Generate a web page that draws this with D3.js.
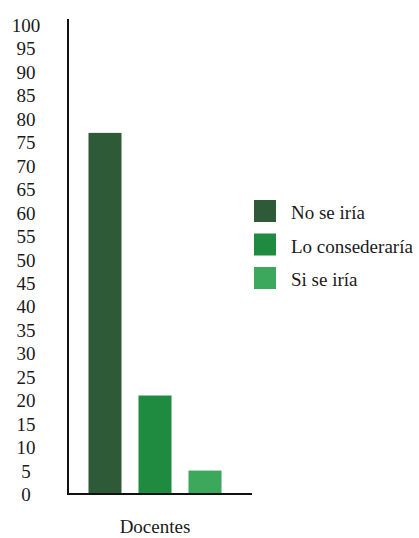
<!DOCTYPE html>
<html>
<head>
<meta charset="utf-8">
<script src="https://cdn.jsdelivr.net/npm/d3@7"></script>
<style>
  html, body { margin: 0; padding: 0; background: #fff; }
  svg { display: block; }
  svg text { font-family: "Liberation Serif", "DejaVu Serif", "Noto Serif", "Times New Roman", serif; fill: #1a1a1a; }
</style>
</head>
<body>
<svg id="chart" width="419" height="538"></svg>
<script>
// Survey answers for the "Docentes" group (percent)
const group = "Docentes";
const seriesNames = ["No se iría", "Lo consederaría", "Si se iría"];
const seriesValues = [77, 21, 5];
const seriesColors = ["#2e5a37", "#1f8b40", "#3ba85b"];
const yTicks = d3.range(0, 101, 5);

const serif = '"Liberation Serif", "DejaVu Serif", "Noto Serif", "Times New Roman", serif';
const svg = d3.select("#chart");

const axisX = 68, baseY = 494, topY = 25;

const y = d3.scaleLinear().domain([0, 100]).range([baseY, topY]);
const x = d3.scaleBand()
  .domain(seriesNames)
  .range([80, 230])
  .paddingInner(0.34)
  .paddingOuter(0.17);

// Bars
svg.append("g")
  .selectAll("rect")
  .data(seriesNames.map((n, i) => ({ name: n, value: seriesValues[i], color: seriesColors[i] })))
  .join("rect")
  .attr("x", d => x(d.name))
  .attr("width", x.bandwidth())
  .attr("y", d => y(d.value))
  .attr("height", d => y(0) - y(d.value))
  .attr("fill", d => d.color);

// Y tick labels (no tick marks)
const yAxis = svg.append("g")
  .attr("transform", `translate(${axisX},0)`)
  .call(d3.axisLeft(y).tickValues(yTicks).tickSize(0).tickFormat(d3.format("d")));
yAxis.attr("font-family", null).attr("font-size", null);
yAxis.select(".domain").remove();
yAxis.selectAll("text")
  .attr("x", -42)
  .attr("dy", null)
  .attr("y", 6.5)
  .attr("text-anchor", "middle")
  .style("font-family", serif)
  .style("font-size", "19px")
  .attr("fill", "#1a1a1a");

// Axis lines
svg.append("line")
  .attr("x1", axisX).attr("x2", axisX)
  .attr("y1", y(100) - 6).attr("y2", baseY + 1)
  .attr("stroke", "#111").attr("stroke-width", 2);
svg.append("line")
  .attr("x1", axisX - 1).attr("x2", 252)
  .attr("y1", baseY).attr("y2", baseY)
  .attr("stroke", "#111").attr("stroke-width", 2);

// Category label
svg.append("text")
  .attr("x", 155)
  .attr("y", 533)
  .attr("text-anchor", "middle")
  .style("font-family", serif)
  .style("font-size", "19px")
  .text(group);

// Legend
const legend = svg.append("g").attr("transform", "translate(254,200)");
const rows = legend.selectAll("g")
  .data(seriesNames)
  .join("g")
  .attr("transform", (d, i) => `translate(0,${i * 33.5})`);
rows.append("rect")
  .attr("width", 22).attr("height", 22)
  .attr("fill", (d, i) => seriesColors[i]);
rows.append("text")
  .attr("x", 37)
  .attr("y", 19)
  .style("font-family", serif)
  .style("font-size", "19px")
  .text(d => d);
</script>
</body>
</html>
